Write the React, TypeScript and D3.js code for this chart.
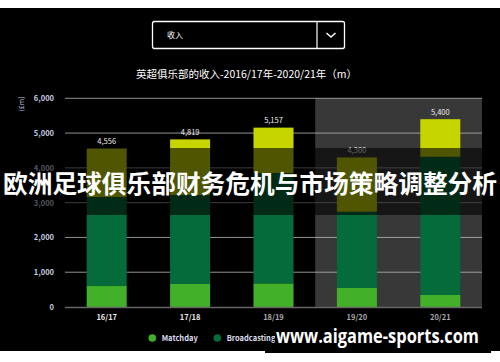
import React from "react";
import * as d3 from "d3";

const seasons = ["16/17", "17/18", "18/19", "19/20", "20/21"];
const matchday = [603, 661, 680, 546, 345];
const broadcasting = [2557, 2557, 3170, 2193, 3974];
const commercial = [1396, 1601, 1307, 1561, 1081];
const totals = [4556, 4819, 5157, 4300, 5400];
const yTicks = [0, 1000, 2000, 3000, 4000, 5000, 6000];
const forecastSeasons = ["19/20", "20/21"];
const legendItems = ["Matchday", "Broadcasting", "Commercial"];

const W = 500, H = 362;
const colors = ["#43b02a", "#066b3a", "#c6d400"];
const font = "'Noto Sans CJK SC', 'Noto Sans', sans-serif";

export default function App() {
  const x = d3.scaleBand().domain(seasons).range([65, 482]).paddingInner(0.52).paddingOuter(0.26);
  const y = d3.scaleLinear().domain([0, 6000]).range([307, 98.3]);
  const fmt = d3.format(",");

  const rows = seasons.map((s, i) => ({ season: s, Matchday: matchday[i], Broadcasting: broadcasting[i], Commercial: commercial[i] }));
  const stacked = d3.stack<any>().keys(legendItems)(rows);

  // shaded area starts half a gap before the first forecast bar
  const shadeX = (x(forecastSeasons[0]) as number) - x.step() * x.paddingInner() / 2;

  return (
    <svg width={W} height={H} style={{ position: "absolute", left: 0, top: 0 }} fontFamily={font}>
      <rect width={W} height={H} fill="#fff" />
      <rect x={0} y={8} width={W} height={343} fill="#000" />

      {/* dropdown */}
      <rect x={152.5} y={21.5} width={192} height={27} rx={2} fill="none" stroke="#fff" strokeWidth={1.3} />
      <line x1={317} x2={317} y1={21.5} y2={48.5} stroke="#fff" strokeWidth={1.2} />
      <text x={167} y={38} fill="#fff" fontSize={8}>收入</text>
      <polyline points="326.5,33 331,37 335.5,33" fill="none" stroke="#fff" strokeWidth={1.5} />

      <text x={246.5} y={78} fill="#fff" fontSize={10.5} textAnchor="middle">英超俱乐部的收入-2016/17年-2020/21年（m）</text>

      <rect x={shadeX} y={y(6000)} width={482 - shadeX} height={y(0) - y(6000)} fill="#383838" />

      {yTicks.map((t) => (
        <g key={t}>
          {t > 0 && <line x1={65} x2={482} y1={y(t)} y2={y(t)} stroke="#b8b8b8" strokeWidth={0.8} />}
          <text x={54} y={y(t) + 3} fill="#c8cce0" fontSize={7.5} fontWeight="bold" textAnchor="end">{fmt(t)}</text>
        </g>
      ))}
      <text transform="translate(24,104) rotate(-90)" fill="#c8cce0" fontSize={7} textAnchor="middle">(£m)</text>

      {stacked.map((layer, k) => (
        <g key={layer.key} fill={colors[k]}>
          {layer.map((d, i) => (
            <rect key={i} x={x(seasons[i])} y={y(d[1])} width={x.bandwidth()} height={y(d[0]) - y(d[1])} />
          ))}
        </g>
      ))}
      <line x1={65} x2={482} y1={y(0) + 0.5} y2={y(0) + 0.5} stroke="#666" strokeWidth={1.5} />

      {seasons.map((s, i) => (
        <g key={s}>
          <text x={(x(s) as number) + x.bandwidth() / 2} y={y(totals[i]) - 4.5} fill="#eee" fontSize={7.5} textAnchor="middle">{fmt(totals[i])}</text>
          <text x={(x(s) as number) + x.bandwidth() / 2} y={320} fill={i < 2 ? "#e6e6e6" : "#a8a8a8"} fontSize={7.5} fontWeight="bold" textAnchor="middle">{s}</text>
        </g>
      ))}

      {/* legend */}
      {legendItems.map((l, i) => (
        <g key={l} transform={`translate(${152.3 + i * 65},338)`}>
          <circle r={3.8} fill={colors[i]} />
          <text x={9.4} y={2.8} fill="#dde" fontSize={7.5} fontWeight="bold">{l}</text>
        </g>
      ))}

      {/* overlay banner */}
      <rect x={0} y={148} width={W} height={67} fill="#000" opacity={0.6} />
      <text x={250} y={193} fill="#fff" fontSize={25} fontWeight="bold" textAnchor="middle" textLength={494} lengthAdjust="spacingAndGlyphs">欧洲足球俱乐部财务危机与市场策略调整分析</text>

      {/* watermark */}
      <rect x={275} y={326} width={216} height={27} fill="#000" />
      <rect x={265} y={344} width={12} height={9} fill="#000" />
      <text x={276} y={343} fill="#fff" fontSize={19} fontWeight="bold" fontFamily="'Open Sans', sans-serif" textLength={203} lengthAdjust="spacingAndGlyphs">www.aigame-sports.com</text>
    </svg>
  );
}
